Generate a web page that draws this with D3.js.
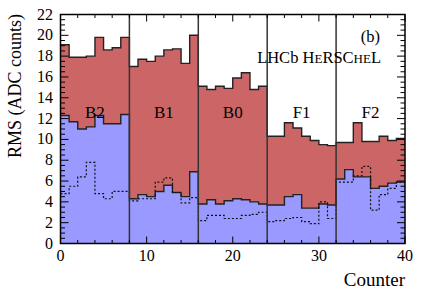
<!DOCTYPE html>
<html>
<head>
<meta charset="utf-8">
<script src="https://cdn.jsdelivr.net/npm/d3@7"></script>
<style>
  body { margin: 0; background: #fff; }
  text { font-family: "Liberation Serif", "Times New Roman", serif; fill: #000; }
</style>
</head>
<body>
<svg width="427" height="290" font-family="Liberation Serif, Times New Roman, serif"></svg>
<script>
// RMS per counter (8 counters per station)
const rmsTop = [19.1, 17.9, 17.9, 18.0, 19.8, 18.6, 18.8, 19.8,
                17.0, 17.7, 17.5, 18.0, 18.6, 18.7, 17.3, 20.0,
                15.1, 14.8, 15.1, 14.9, 15.9, 16.4, 14.8, 15.1,
                10.3, 10.3, 11.6, 11.1, 10.3, 9.9, 9.5, 9.4,
                9.7, 9.7, 11.6, 9.8, 9.8, 10.3, 9.9, 10.1];
const rmsMid = [12.3, 11.7, 11.0, 11.2, 12.3, 11.5, 11.5, 12.4,
                4.3, 4.7, 4.5, 5.0, 5.6, 4.9, 4.5, 6.9,
                3.8, 4.2, 3.8, 4.1, 4.3, 4.2, 4.0, 3.8,
                3.7, 3.7, 4.5, 4.7, 3.4, 3.4, 3.8, 3.7,
                6.2, 7.1, 6.4, 6.4, 5.3, 5.5, 5.8, 5.9];
const rmsDash = [4.8, 5.5, 6.4, 7.8, 4.8, 4.3, 5.0, 5.0,
                 4.1, 4.3, 4.3, 5.9, 6.3, 4.9, 3.9, 4.4,
                 2.2, 2.7, 2.7, 2.4, 2.4, 2.7, 2.8, 3.0,
                 2.1, 2.2, 2.4, 2.5, 2.1, 1.9, 4.0, 2.4,
                 5.9, 5.9, 6.5, 7.4, 3.2, 4.7, 5.3, 5.9];
const stations = ["B2", "B1", "B0", "F1", "F2"];
const stationCentres = [4, 12, 20, 28, 36];
const dividers = [8, 16, 24, 32];
const xTicks = [0, 10, 20, 30, 40];
const yTicks = [0, 2, 4, 6, 8, 10, 12, 14, 16, 18, 20, 22];

const svg = d3.select("svg");
const L = 60.5, R = 405, T = 14.5, B = 243.5;
const FONT = "Liberation Serif, Times New Roman, serif";

const x = d3.scaleLinear().domain([0, 40]).range([L, R]);
const y = d3.scaleLinear().domain([0, 22]).range([B, T]);

// turn per-bin values into step points
function steps(vals) {
  let pts = [];
  vals.forEach((v, i) => { pts.push([i, v]); pts.push([i + 1, v]); });
  return pts;
}

const area = d3.area().x(d => x(d[0])).y0(y(0)).y1(d => y(d[1]));
const line = d3.line().x(d => x(d[0])).y(d => y(d[1]));

// red histogram
svg.append("path").attr("d", area(steps(rmsTop))).attr("fill", "#cc6666");
svg.append("path").attr("d", line(steps(rmsTop)))
  .attr("fill", "none").attr("stroke", "#222").attr("stroke-width", 1.4);

// blue histogram
svg.append("path").attr("d", area(steps(rmsMid))).attr("fill", "#9999ff");
svg.append("path").attr("d", line(steps(rmsMid)))
  .attr("fill", "none").attr("stroke", "#222").attr("stroke-width", 1.4);

// dashed histogram
svg.append("path").attr("d", line(steps(rmsDash)))
  .attr("fill", "none").attr("stroke", "#111").attr("stroke-width", 1.2)
  .attr("stroke-dasharray", "2,2");

// station dividers
svg.selectAll(".div").data(dividers).enter().append("line")
  .attr("x1", d => x(d)).attr("x2", d => x(d))
  .attr("y1", T).attr("y2", B)
  .attr("stroke", "#333").attr("stroke-width", 1.5);

// station labels
svg.selectAll(".lab").data(stations).enter().append("text")
  .attr("font-family", FONT)
  .attr("x", (d, i) => x(stationCentres[i])).attr("y", 118)
  .attr("text-anchor", "middle").attr("font-size", 17).text(d => d);

// ticks (inside the frame, ROOT style)
const yMinor = d3.range(0, 22.01, 0.5);
const xMinor = d3.range(0, 40.01, 2);
const tk = svg.append("g").attr("stroke", "#000").attr("stroke-width", 1);
yMinor.forEach(v => {
  const len = v % 2 === 0 ? 8 : 4.5;
  tk.append("line").attr("x1", L).attr("x2", L + len).attr("y1", y(v)).attr("y2", y(v));
  tk.append("line").attr("x1", R).attr("x2", R - len).attr("y1", y(v)).attr("y2", y(v));
});
xMinor.forEach(v => {
  const len = v % 10 === 0 ? 7 : 3.5;
  tk.append("line").attr("x1", x(v)).attr("x2", x(v)).attr("y1", T).attr("y2", T + len);
  tk.append("line").attr("x1", x(v)).attr("x2", x(v)).attr("y1", B).attr("y2", B - len);
});

// frame
svg.append("rect").attr("x", L).attr("y", T).attr("width", R - L).attr("height", B - T)
  .attr("fill", "none").attr("stroke", "#000").attr("stroke-width", 1.5);

// tick labels
svg.selectAll(".yl").data(yTicks).enter().append("text")
  .attr("font-family", FONT)
  .attr("x", 53).attr("y", d => y(d) + 5)
  .attr("text-anchor", "end").attr("font-size", 16).text(d => d);
svg.selectAll(".xl").data(xTicks).enter().append("text")
  .attr("font-family", FONT)
  .attr("x", d => x(d)).attr("y", 261)
  .attr("text-anchor", "middle").attr("font-size", 16).text(d => d);

// axis titles
svg.append("text").attr("font-family", FONT).attr("x", 405).attr("y", 286)
  .attr("text-anchor", "end").attr("font-size", 19).text("Counter");
svg.append("text").attr("font-family", FONT).attr("transform", "translate(21,14) rotate(-90)")
  .attr("text-anchor", "end").attr("font-size", 18).text("RMS (ADC counts)");

// experiment tag, small caps by hand
const tag = svg.append("text").attr("font-family", FONT).attr("x", 381).attr("y", 63)
  .attr("text-anchor", "end").attr("font-size", 16.5);
tag.append("tspan").text("LHCb H");
tag.append("tspan").attr("font-size", 13).text("E");
tag.append("tspan").text("RSC");
tag.append("tspan").attr("font-size", 13).text("HE");
tag.append("tspan").text("L");

svg.append("text").attr("font-family", FONT).attr("x", 380).attr("y", 42)
  .attr("text-anchor", "end").attr("font-size", 16.5).text("(b)");
</script>
</body>
</html>
